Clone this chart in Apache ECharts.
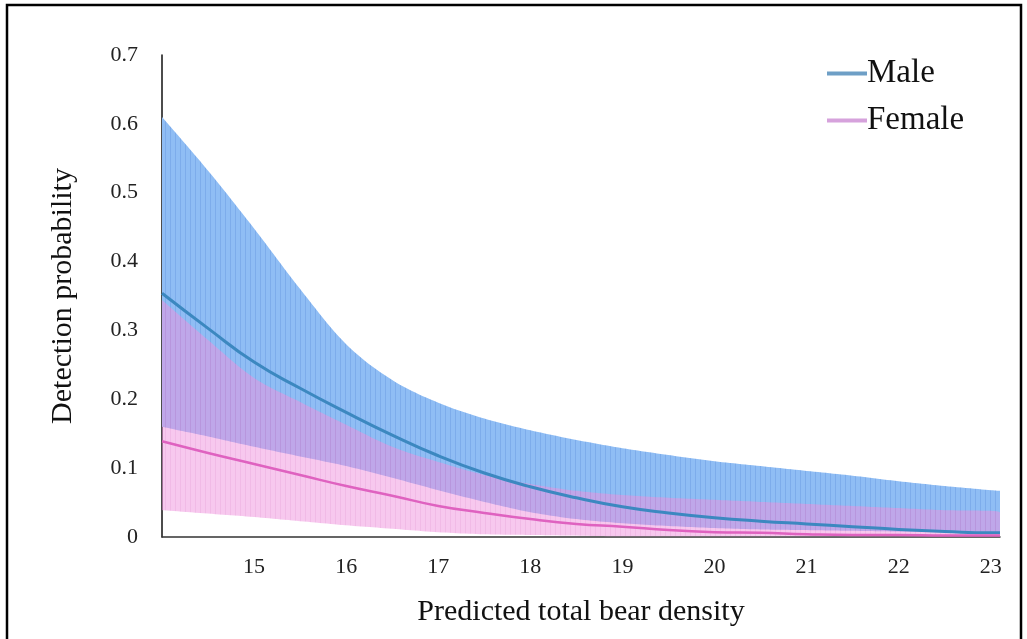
<!DOCTYPE html>
<html>
<head>
<meta charset="utf-8">
<script src="https://cdn.jsdelivr.net/npm/echarts@6/dist/echarts.min.js"></script>
<style>
  html, body { margin: 0; padding: 0; background: #fff; }
  #chart { width: 1027px; height: 639px; }
</style>
</head>
<body>
<div id="chart"></div>
<script>
// density values (x) and detection probabilities
const density = [14, 14.5, 15, 15.5, 16, 16.5, 17, 17.5, 18, 18.5, 19, 19.5, 20, 20.5, 21, 21.5, 22, 22.5, 23, 23.1]
const maleMean = [0.354, 0.303, 0.254, 0.216, 0.181, 0.148, 0.118, 0.093, 0.073, 0.057, 0.044, 0.035, 0.028, 0.023, 0.019, 0.015, 0.011, 0.008, 0.006, 0.006]
const maleLower = [0.160, 0.146, 0.131, 0.117, 0.103, 0.086, 0.068, 0.051, 0.036, 0.026, 0.020, 0.016, 0.013, 0.011, 0.010, 0.009, 0.008, 0.008, 0.007, 0.007]
const maleUpper = [0.610, 0.532, 0.448, 0.360, 0.280, 0.228, 0.195, 0.172, 0.155, 0.141, 0.129, 0.119, 0.110, 0.103, 0.096, 0.089, 0.081, 0.074, 0.068, 0.067]
const femaleMean = [0.139, 0.122, 0.106, 0.090, 0.074, 0.060, 0.045, 0.035, 0.026, 0.019, 0.015, 0.010, 0.007, 0.006, 0.004, 0.003, 0.003, 0.002, 0.002, 0.002]
const femaleLower = [0.039, 0.034, 0.029, 0.023, 0.017, 0.012, 0.007, 0.004, 0.003, 0.002, 0.001, 0.001, 0.001, 0.001, 0.001, 0.001, 0.001, 0.001, 0.001, 0.001]
const femaleUpper = [0.344, 0.286, 0.231, 0.196, 0.163, 0.131, 0.109, 0.090, 0.077, 0.067, 0.061, 0.057, 0.054, 0.051, 0.048, 0.045, 0.042, 0.039, 0.038, 0.036]
const xTickLabels = ['15', '16', '17', '18', '19', '20', '21', '22', '23']

const serif = '"Liberation Serif", "DejaVu Serif", serif'

// thin vertical stripes, like the dense error bars of the original
function stripes (col) {
  const c = document.createElement('canvas')
  c.width = 5
  c.height = 2
  const ctx = c.getContext('2d')
  ctx.fillStyle = col
  ctx.fillRect(0, 0, 1, 2)
  return { image: c, repeat: 'repeat' }
}

// smooth pixel curve through the projected points (catmull-rom)
function curve (p, steps) {
  const out = [p[0]]
  const n = p.length
  for (let i = 0; i < n - 1; i++) {
    const p0 = p[Math.max(i - 1, 0)]
    const p1 = p[i]
    const p2 = p[i + 1]
    const p3 = p[Math.min(i + 2, n - 1)]
    const c1 = [p1[0] + (p2[0] - p0[0]) / 6, p1[1] + (p2[1] - p0[1]) / 6]
    const c2 = [p2[0] - (p3[0] - p1[0]) / 6, p2[1] - (p3[1] - p1[1]) / 6]
    for (let s = 1; s <= steps; s++) {
      const t = s / steps
      const u = 1 - t
      out.push([
        u * u * u * p1[0] + 3 * u * u * t * c1[0] + 3 * u * t * t * c2[0] + t * t * t * p2[0],
        u * u * u * p1[1] + 3 * u * u * t * c1[1] + 3 * u * t * t * c2[1] + t * t * t * p2[1]
      ])
    }
  }
  return out
}

const pts = arr => density.map((x, i) => [x, arr[i]])

// one filled shape between lower and upper bounds
function bandSeries (lo, hi, fill, stripeCol, z) {
  return {
    type: 'custom',
    coordinateSystem: 'cartesian2d',
    clip: true,
    silent: true,
    z: z,
    data: density.map((x, i) => [x, lo[i], hi[i]]),
    encode: { x: 0, y: [1, 2] },
    renderItem (params, api) {
      if (params.dataIndex !== 0) return null
      const top = curve(density.map((x, i) => api.coord([x, hi[i]])), 12)
      const bottom = curve(density.map((x, i) => api.coord([x, lo[i]])), 12).reverse()
      const shape = { points: top.concat(bottom) }
      return {
        type: 'group',
        children: [
          { type: 'polygon', shape: shape, style: { fill: fill } },
          { type: 'polygon', shape: shape, style: { fill: stripes(stripeCol) } }
        ]
      }
    }
  }
}

const myChart = echarts.init(document.getElementById('chart'))
myChart.setOption({
  animation: false,
  graphic: [{
    type: 'rect',
    shape: { x: 7, y: 5, width: 1014, height: 700 },
    style: { fill: 'none', stroke: '#000', lineWidth: 2.5 },
    silent: true
  }],
  grid: { left: 162, right: 27, top: 55, bottom: 102 },
  legend: {
    orient: 'vertical',
    left: 822,
    top: 52,
    itemWidth: 40,
    itemHeight: 4,
    itemGap: 14,
    icon: 'rect',
    textStyle: { fontFamily: serif, fontSize: 33, lineHeight: 33, color: '#111', padding: [0, 0, 0, -5] },
    data: [
      { name: 'Male', itemStyle: { color: '#6e9fc6' } },
      { name: 'Female', itemStyle: { color: '#d6a2dc' } }
    ]
  },
  xAxis: {
    type: 'value',
    min: 14,
    max: 23.1,
    interval: 1,
    name: 'Predicted total bear density',
    nameLocation: 'middle',
    nameGap: 60,
    nameTextStyle: { fontFamily: serif, fontSize: 30, color: '#111' },
    axisLine: { lineStyle: { color: '#333', width: 1.5 } },
    axisTick: { show: false },
    splitLine: { show: false },
    axisLabel: {
      margin: 19,
      fontFamily: serif,
      fontSize: 22,
      color: '#222',
      formatter: v => xTickLabels.indexOf(String(v)) >= 0 ? String(v) : ''
    }
  },
  yAxis: {
    type: 'value',
    min: 0,
    max: 0.7,
    interval: 0.1,
    name: 'Detection probability',
    nameLocation: 'middle',
    nameGap: 84,
    nameTextStyle: { fontFamily: serif, fontSize: 30, color: '#111' },
    axisLine: { show: true, lineStyle: { color: '#111', width: 1.5 } },
    axisTick: { show: false },
    splitLine: { show: false },
    axisLabel: {
      margin: 24,
      fontFamily: serif,
      fontSize: 22,
      color: '#222',
      formatter: v => v === 0 ? '0' : v.toFixed(1)
    }
  },
  series: [
    bandSeries(maleLower, maleUpper, '#8fbdf4', 'rgba(40,90,190,0.17)', 1),
    bandSeries(femaleLower, femaleUpper, 'rgba(240,145,221,0.5)', 'rgba(200,90,180,0.13)', 2),
    {
      name: 'Male',
      type: 'line',
      data: pts(maleMean),
      smooth: true,
      showSymbol: false,
      color: '#3c88c0',
      lineStyle: { color: '#3c88c0', width: 3 },
      z: 5
    },
    {
      name: 'Female',
      type: 'line',
      data: pts(femaleMean),
      smooth: true,
      showSymbol: false,
      color: '#df62c0',
      lineStyle: { color: '#df62c0', width: 2.5 },
      z: 5
    }
  ]
})
</script>
</body>
</html>
